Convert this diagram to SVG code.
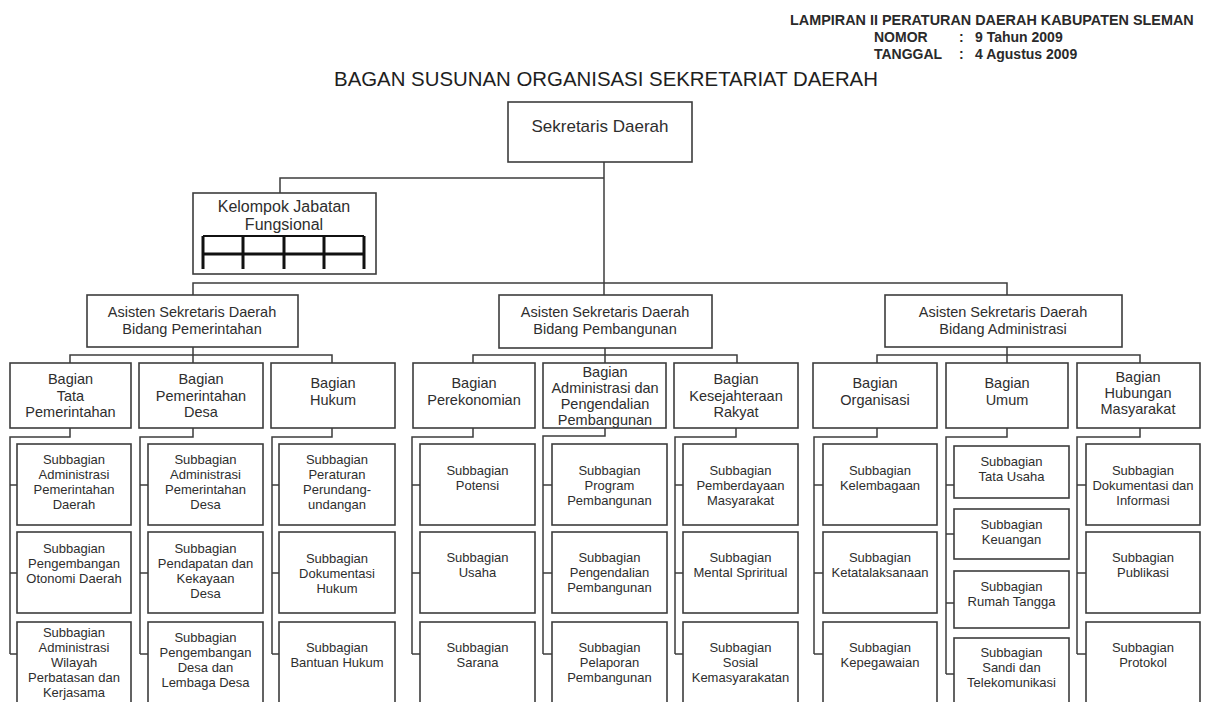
<svg xmlns="http://www.w3.org/2000/svg" width="1210" height="702" viewBox="0 0 1210 702">
  <style>
    .box { fill: #ffffff; stroke: #3d3d3d; stroke-width: 1.6; }
    .conn { fill: none; stroke: #3d3d3d; stroke-width: 1.5; }
    .grid { fill: none; stroke: #111111; stroke-width: 3; }
    text { font-family: "Liberation Sans", Arial, sans-serif; fill: #2e2e2e; text-anchor: middle; }
    .hdr { font-weight: bold; font-size: 14px; text-anchor: start; fill: #2a2a2a; }
    .title { font-size: 20.4px; fill: #1e1e1e; }
    .top { font-size: 17px; }
    .kf { font-size: 16px; }
    .lv2 { font-size: 14.5px; }
    .lv4 { font-size: 13px; }
  </style>

  <rect x="0" y="0" width="1210" height="702" fill="#ffffff"/>

  <!-- heading block -->
  <g id="header">
    <text class="hdr" x="790" y="25" style="font-size:14.4px">LAMPIRAN II PERATURAN DAERAH KABUPATEN SLEMAN</text>
    <text class="hdr" x="874" y="42">NOMOR</text>
    <text class="hdr" x="959" y="42">:</text>
    <text class="hdr" x="975" y="42">9 Tahun 2009</text>
    <text class="hdr" x="874" y="59">TANGGAL</text>
    <text class="hdr" x="959" y="59">:</text>
    <text class="hdr" x="975" y="59">4 Agustus 2009</text>
    <text class="title" x="606" y="86">BAGAN SUSUNAN ORGANISASI SEKRETARIAT DAERAH</text>
  </g>

  <!-- connectors -->
  <g id="connectors">
    <!-- top level -->
    <path class="conn" d="M604 162 V295"/>
    <path class="conn" d="M604 178 H280 V193"/>
    <path class="conn" d="M193 295 V283 H1007 V295"/>
    <!-- asisten to bagian -->
    <path class="conn" d="M193 347 V355 M70 363 V355 H332 V363 M193 355 V363"/>
    <path class="conn" d="M605 348 V363 M473 363 V355 H737 V363"/>
    <path class="conn" d="M1007 347 V363 M877 363 V355 H1140 V363"/>
    <!-- bagian to subbagian: left group -->
    <path class="conn" d="M70 428 V437 H10 V654 M10 485 H17 M10 573 H17 M10 654 H17"/>
    <path class="conn" d="M193 428 V437 H140 V654 M140 485 H148 M140 573 H148 M140 654 H148"/>
    <path class="conn" d="M332 428 V437 H272 V654 M272 485 H279 M272 573 H279 M272 654 H279"/>
    <!-- middle group -->
    <path class="conn" d="M473 428 V437 H412 V654 M412 485 H420 M412 573 H420 M412 654 H420"/>
    <path class="conn" d="M605 428 V436 H543 V654 M543 485 H552 M543 573 H552 M543 654 H552"/>
    <path class="conn" d="M736 428 V437 H675 V654 M675 485 H683 M675 573 H683 M675 654 H683"/>
    <!-- right group -->
    <path class="conn" d="M877 428 V437 H814 V654 M814 485 H823 M814 573 H823 M814 654 H823"/>
    <path class="conn" d="M1007 428 V437 H946 V674 M946 485 H954 M946 534 H954 M946 603 H954 M946 674 H954"/>
    <path class="conn" d="M1140 428 V437 H1077 V654 M1077 485 H1086 M1077 573 H1086 M1077 654 H1086"/>
  </g>

  <!-- top -->
  <g id="sekda">
    <rect class="box" x="508" y="102" width="184" height="60"/>
    <text class="top" x="600" y="132">Sekretaris Daerah</text>
  </g>

  <g id="jabatan-fungsional">
    <rect class="box" x="193" y="193" width="183" height="81"/>
    <text class="kf" x="284" y="212">Kelompok Jabatan</text>
    <text class="kf" x="284" y="230">Fungsional</text>
    <path class="conn" style="stroke:#111;stroke-width:2" d="M203 236 H364"/>
    <path class="grid" d="M203 254 H364 M203 236 V269 M243 236 V269 M284 236 V269 M324 236 V269 M364 236 V269"/>
  </g>

  <!-- assistants -->
  <g id="asisten-pemerintahan">
    <rect class="box" x="87" y="295" width="211" height="52"/>
    <text class="lv2" x="192" y="317">Asisten Sekretaris Daerah</text>
    <text class="lv2" x="192" y="334">Bidang Pemerintahan</text>
  </g>
  <g id="asisten-pembangunan">
    <rect class="box" x="499" y="295" width="213" height="53"/>
    <text class="lv2" x="605" y="317">Asisten Sekretaris Daerah</text>
    <text class="lv2" x="605" y="334">Bidang Pembangunan</text>
  </g>
  <g id="asisten-administrasi">
    <rect class="box" x="885" y="295" width="237" height="52"/>
    <text class="lv2" x="1003" y="317">Asisten Sekretaris Daerah</text>
    <text class="lv2" x="1003" y="334">Bidang Administrasi</text>
  </g>

  <!-- bagian -->
  <g id="bagian-tata-pemerintahan">
    <rect class="box" x="10" y="363" width="121" height="65"/>
    <text class="lv2" x="70.5" y="384">Bagian</text>
    <text class="lv2" x="70.5" y="401">Tata</text>
    <text class="lv2" x="70.5" y="417">Pemerintahan</text>
  </g>
  <g id="bagian-pemerintahan-desa">
    <rect class="box" x="139" y="363" width="124" height="65"/>
    <text class="lv2" x="201" y="384">Bagian</text>
    <text class="lv2" x="201" y="401">Pemerintahan</text>
    <text class="lv2" x="201" y="417">Desa</text>
  </g>
  <g id="bagian-hukum">
    <rect class="box" x="271" y="363" width="124" height="65"/>
    <text class="lv2" x="333" y="388">Bagian</text>
    <text class="lv2" x="333" y="405">Hukum</text>
  </g>
  <g id="bagian-perekonomian">
    <rect class="box" x="413" y="363" width="122" height="65"/>
    <text class="lv2" x="474" y="388">Bagian</text>
    <text class="lv2" x="474" y="405">Perekonomian</text>
  </g>
  <g id="bagian-adm-pengendalian">
    <rect class="box" x="543" y="363" width="123" height="65"/>
    <text class="lv2" x="605" y="377">Bagian</text>
    <text class="lv2" x="605" y="393">Administrasi dan</text>
    <text class="lv2" x="605" y="409">Pengendalian</text>
    <text class="lv2" x="605" y="425">Pembangunan</text>
  </g>
  <g id="bagian-kesra">
    <rect class="box" x="674" y="363" width="124" height="65"/>
    <text class="lv2" x="736" y="384">Bagian</text>
    <text class="lv2" x="736" y="401">Kesejahteraan</text>
    <text class="lv2" x="736" y="417">Rakyat</text>
  </g>
  <g id="bagian-organisasi">
    <rect class="box" x="813" y="363" width="124" height="65"/>
    <text class="lv2" x="875" y="388">Bagian</text>
    <text class="lv2" x="875" y="405">Organisasi</text>
  </g>
  <g id="bagian-umum">
    <rect class="box" x="946" y="363" width="122" height="65"/>
    <text class="lv2" x="1007" y="388">Bagian</text>
    <text class="lv2" x="1007" y="405">Umum</text>
  </g>
  <g id="bagian-humas">
    <rect class="box" x="1077" y="363" width="123" height="65"/>
    <text class="lv2" x="1138" y="382">Bagian</text>
    <text class="lv2" x="1138" y="398">Hubungan</text>
    <text class="lv2" x="1138" y="414">Masyarakat</text>
  </g>

  <!-- subbagian: Tata Pemerintahan -->
  <g id="sub-adm-pemda">
    <rect class="box" x="17" y="444" width="114" height="81"/>
    <text class="lv4" x="74" y="464">Subbagian</text>
    <text class="lv4" x="74" y="479">Administrasi</text>
    <text class="lv4" x="74" y="494">Pemerintahan</text>
    <text class="lv4" x="74" y="509">Daerah</text>
  </g>
  <g id="sub-otoda">
    <rect class="box" x="17" y="532" width="114" height="81"/>
    <text class="lv4" x="74" y="553">Subbagian</text>
    <text class="lv4" x="74" y="568">Pengembangan</text>
    <text class="lv4" x="74" y="583">Otonomi Daerah</text>
  </g>
  <g id="sub-wilayah">
    <rect class="box" x="17" y="622" width="114" height="90"/>
    <text class="lv4" x="74" y="637">Subbagian</text>
    <text class="lv4" x="74" y="652">Administrasi</text>
    <text class="lv4" x="74" y="667">Wilayah</text>
    <text class="lv4" x="74" y="682">Perbatasan dan</text>
    <text class="lv4" x="74" y="697">Kerjasama</text>
  </g>

  <!-- subbagian: Pemerintahan Desa -->
  <g id="sub-adm-pemdes">
    <rect class="box" x="148" y="444" width="115" height="81"/>
    <text class="lv4" x="205.5" y="464">Subbagian</text>
    <text class="lv4" x="205.5" y="479">Administrasi</text>
    <text class="lv4" x="205.5" y="494">Pemerintahan</text>
    <text class="lv4" x="205.5" y="509">Desa</text>
  </g>
  <g id="sub-pendapatan-desa">
    <rect class="box" x="148" y="532" width="115" height="81"/>
    <text class="lv4" x="205.5" y="553">Subbagian</text>
    <text class="lv4" x="205.5" y="568">Pendapatan dan</text>
    <text class="lv4" x="205.5" y="583">Kekayaan</text>
    <text class="lv4" x="205.5" y="598">Desa</text>
  </g>
  <g id="sub-pengembangan-desa">
    <rect class="box" x="148" y="622" width="115" height="90"/>
    <text class="lv4" x="205.5" y="642">Subbagian</text>
    <text class="lv4" x="205.5" y="657">Pengembangan</text>
    <text class="lv4" x="205.5" y="672">Desa dan</text>
    <text class="lv4" x="205.5" y="687">Lembaga Desa</text>
  </g>

  <!-- subbagian: Hukum -->
  <g id="sub-peraturan">
    <rect class="box" x="279" y="444" width="116" height="81"/>
    <text class="lv4" x="337" y="464">Subbagian</text>
    <text class="lv4" x="337" y="479">Peraturan</text>
    <text class="lv4" x="337" y="494">Perundang-</text>
    <text class="lv4" x="337" y="509">undangan</text>
  </g>
  <g id="sub-dok-hukum">
    <rect class="box" x="279" y="532" width="116" height="81"/>
    <text class="lv4" x="337" y="563">Subbagian</text>
    <text class="lv4" x="337" y="578">Dokumentasi</text>
    <text class="lv4" x="337" y="593">Hukum</text>
  </g>
  <g id="sub-bantuan-hukum">
    <rect class="box" x="279" y="622" width="116" height="90"/>
    <text class="lv4" x="337" y="652">Subbagian</text>
    <text class="lv4" x="337" y="667">Bantuan Hukum</text>
  </g>

  <!-- subbagian: Perekonomian -->
  <g id="sub-potensi">
    <rect class="box" x="420" y="444" width="115" height="81"/>
    <text class="lv4" x="477.5" y="475">Subbagian</text>
    <text class="lv4" x="477.5" y="490">Potensi</text>
  </g>
  <g id="sub-usaha">
    <rect class="box" x="420" y="532" width="115" height="81"/>
    <text class="lv4" x="477.5" y="562">Subbagian</text>
    <text class="lv4" x="477.5" y="577">Usaha</text>
  </g>
  <g id="sub-sarana">
    <rect class="box" x="420" y="622" width="115" height="90"/>
    <text class="lv4" x="477.5" y="652">Subbagian</text>
    <text class="lv4" x="477.5" y="667">Sarana</text>
  </g>

  <!-- subbagian: Administrasi dan Pengendalian Pembangunan -->
  <g id="sub-program">
    <rect class="box" x="552" y="444" width="115" height="81"/>
    <text class="lv4" x="609.5" y="475">Subbagian</text>
    <text class="lv4" x="609.5" y="490">Program</text>
    <text class="lv4" x="609.5" y="505">Pembangunan</text>
  </g>
  <g id="sub-pengendalian">
    <rect class="box" x="552" y="532" width="115" height="81"/>
    <text class="lv4" x="609.5" y="562">Subbagian</text>
    <text class="lv4" x="609.5" y="577">Pengendalian</text>
    <text class="lv4" x="609.5" y="592">Pembangunan</text>
  </g>
  <g id="sub-pelaporan">
    <rect class="box" x="552" y="622" width="115" height="90"/>
    <text class="lv4" x="609.5" y="652">Subbagian</text>
    <text class="lv4" x="609.5" y="667">Pelaporan</text>
    <text class="lv4" x="609.5" y="682">Pembangunan</text>
  </g>

  <!-- subbagian: Kesejahteraan Rakyat -->
  <g id="sub-pemberdayaan">
    <rect class="box" x="683" y="444" width="115" height="81"/>
    <text class="lv4" x="740.5" y="475">Subbagian</text>
    <text class="lv4" x="740.5" y="490">Pemberdayaan</text>
    <text class="lv4" x="740.5" y="505">Masyarakat</text>
  </g>
  <g id="sub-mental">
    <rect class="box" x="683" y="532" width="115" height="81"/>
    <text class="lv4" x="740.5" y="562">Subbagian</text>
    <text class="lv4" x="740.5" y="577">Mental Spriritual</text>
  </g>
  <g id="sub-sosial">
    <rect class="box" x="683" y="622" width="115" height="90"/>
    <text class="lv4" x="740.5" y="652">Subbagian</text>
    <text class="lv4" x="740.5" y="667">Sosial</text>
    <text class="lv4" x="740.5" y="682">Kemasyarakatan</text>
  </g>

  <!-- subbagian: Organisasi -->
  <g id="sub-kelembagaan">
    <rect class="box" x="823" y="444" width="114" height="81"/>
    <text class="lv4" x="880" y="475">Subbagian</text>
    <text class="lv4" x="880" y="490">Kelembagaan</text>
  </g>
  <g id="sub-ketatalaksanaan">
    <rect class="box" x="823" y="532" width="114" height="81"/>
    <text class="lv4" x="880" y="562">Subbagian</text>
    <text class="lv4" x="880" y="577">Ketatalaksanaan</text>
  </g>
  <g id="sub-kepegawaian">
    <rect class="box" x="823" y="622" width="114" height="90"/>
    <text class="lv4" x="880" y="652">Subbagian</text>
    <text class="lv4" x="880" y="667">Kepegawaian</text>
  </g>

  <!-- subbagian: Umum -->
  <g id="sub-tata-usaha">
    <rect class="box" x="954" y="446" width="115" height="52"/>
    <text class="lv4" x="1011.5" y="466">Subbagian</text>
    <text class="lv4" x="1011.5" y="481">Tata Usaha</text>
  </g>
  <g id="sub-keuangan">
    <rect class="box" x="954" y="509" width="115" height="50"/>
    <text class="lv4" x="1011.5" y="529">Subbagian</text>
    <text class="lv4" x="1011.5" y="544">Keuangan</text>
  </g>
  <g id="sub-rumah-tangga">
    <rect class="box" x="954" y="571" width="115" height="57"/>
    <text class="lv4" x="1011.5" y="591">Subbagian</text>
    <text class="lv4" x="1011.5" y="606">Rumah Tangga</text>
  </g>
  <g id="sub-sandi">
    <rect class="box" x="954" y="638" width="115" height="74"/>
    <text class="lv4" x="1011.5" y="657">Subbagian</text>
    <text class="lv4" x="1011.5" y="672">Sandi dan</text>
    <text class="lv4" x="1011.5" y="687">Telekomunikasi</text>
  </g>

  <!-- subbagian: Hubungan Masyarakat -->
  <g id="sub-dokinfo">
    <rect class="box" x="1086" y="444" width="114" height="81"/>
    <text class="lv4" x="1143" y="475">Subbagian</text>
    <text class="lv4" x="1143" y="490">Dokumentasi dan</text>
    <text class="lv4" x="1143" y="505">Informasi</text>
  </g>
  <g id="sub-publikasi">
    <rect class="box" x="1086" y="532" width="114" height="81"/>
    <text class="lv4" x="1143" y="562">Subbagian</text>
    <text class="lv4" x="1143" y="577">Publikasi</text>
  </g>
  <g id="sub-protokol">
    <rect class="box" x="1086" y="622" width="114" height="90"/>
    <text class="lv4" x="1143" y="652">Subbagian</text>
    <text class="lv4" x="1143" y="667">Protokol</text>
  </g>
</svg>
